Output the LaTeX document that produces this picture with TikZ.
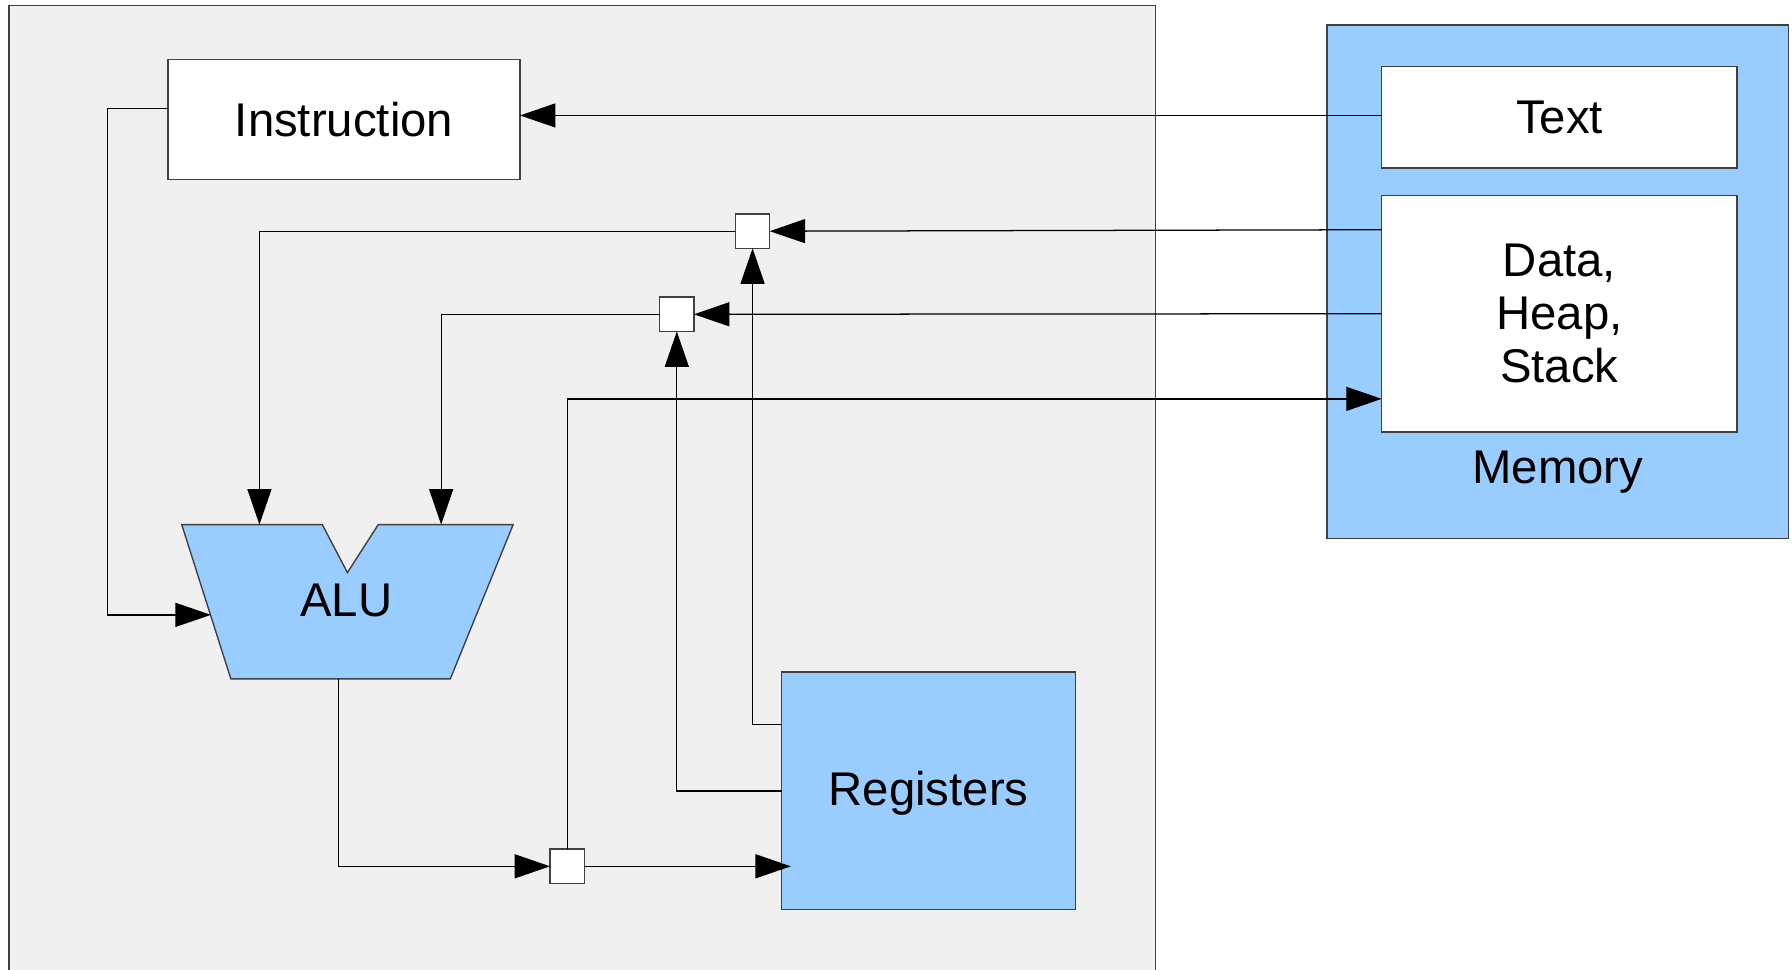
\documentclass[tikz,border=0pt]{standalone}
\usepackage{fontspec}
\setmainfont{Liberation Sans}
\usetikzlibrary{arrows.meta}
\definecolor{cpugray}{HTML}{F0F0F0}
\definecolor{lblue}{HTML}{99CCFF}
\definecolor{edge}{HTML}{404040}
\begin{document}
\begin{tikzpicture}[x=0.5pt,y=-0.5pt,
  box/.style={draw=edge,line width=0.6pt,inner sep=0pt,outer sep=0pt,
    font=\fontsize{20.7pt}{23.25pt}\selectfont,align=center},
  wbox/.style={box,fill=white},
  bbox/.style={box,fill=lblue},
  mux/.style={draw=edge,line width=0.6pt,fill=white,minimum width=15pt,minimum height=15pt,inner sep=0pt,outer sep=0pt},
  wire/.style={draw=black,line width=0.55pt},
  arr/.style={wire,-{Triangle[length=15.5pt,width=10.5pt]}},
  lbl/.style={font=\fontsize{20.7pt}{23.25pt}\selectfont,inner sep=0pt}]
\useasboundingbox (0,0) rectangle (1568,848);
% CPU area
\fill[cpugray] (8,5) rectangle (1011,852);
\draw[edge,line width=0.6pt] (8,852) -- (8,5) -- (1011,5) -- (1011,852);
% Memory
\node[bbox,minimum width=202pt,minimum height=224.5pt] (mem) at (1363,246.5) {};
\node[lbl] (memlbl) at (1363,413) {Memory};
\node[wbox,minimum width=155.5pt,minimum height=44.5pt] (txt) at (1364.5,102.5) {Text};
\node[wbox,minimum width=155.5pt,minimum height=103.5pt] (data) at (1364.5,274.5) {Data,\\Heap,\\Stack};
% Instruction
\node[wbox,minimum width=154pt,minimum height=52.5pt] (instr) at (301,104.5) {Instruction};
% Registers
\node[bbox,minimum width=128.5pt,minimum height=104pt] (reg) at (812.5,692) {};
\node[lbl] (reglbl) at (812.5,694) {Registers};
% ALU
\draw[edge,line width=0.6pt,fill=lblue] (159,459) -- (282,459) -- (304,501) -- (331,459) -- (449,459) -- (394,594) -- (202,594) -- cycle;
\node[lbl] (alu) at (303,525) {ALU};
\coordinate (aluL) at (184.5,538);
\coordinate (aluT1) at (227,459);
\coordinate (aluT2) at (386,459);
\coordinate (aluB) at (296,594);
% muxes
\node[mux] (sq1) at (658.5,202.3) {};
\node[mux] (sq2) at (592.2,275) {};
\node[mux] (sq3) at (496.3,758) {};
% connectors
\draw[arr] ([yshift=0.75pt]txt.west) -- ([yshift=0.75pt]txt.west -| instr.east);
\draw[arr] ([yshift=4.75pt]instr.west) -| (94,538) -- (aluL);
\draw[arr] ([yshift=36.75pt]data.west) -- (sq1.east);
\draw[arr] (sq1.west) -| (aluT1);
\draw[arr] ([yshift=29pt]reg.west) -| (sq1.south);
\draw[arr] (data.west) -- (sq2.east);
\draw[arr] (sq2.west) -| (aluT2);
\draw[arr] (reg.west) -| (sq2.south);
\draw[arr] (aluB) |- (sq3.west);
\draw[arr] (sq3.east) -- ([xshift=4pt]sq3.east -| reg.west);
\draw[arr] (sq3.north) |- ([yshift=-37.25pt]data.west);
\end{tikzpicture}
\end{document}
